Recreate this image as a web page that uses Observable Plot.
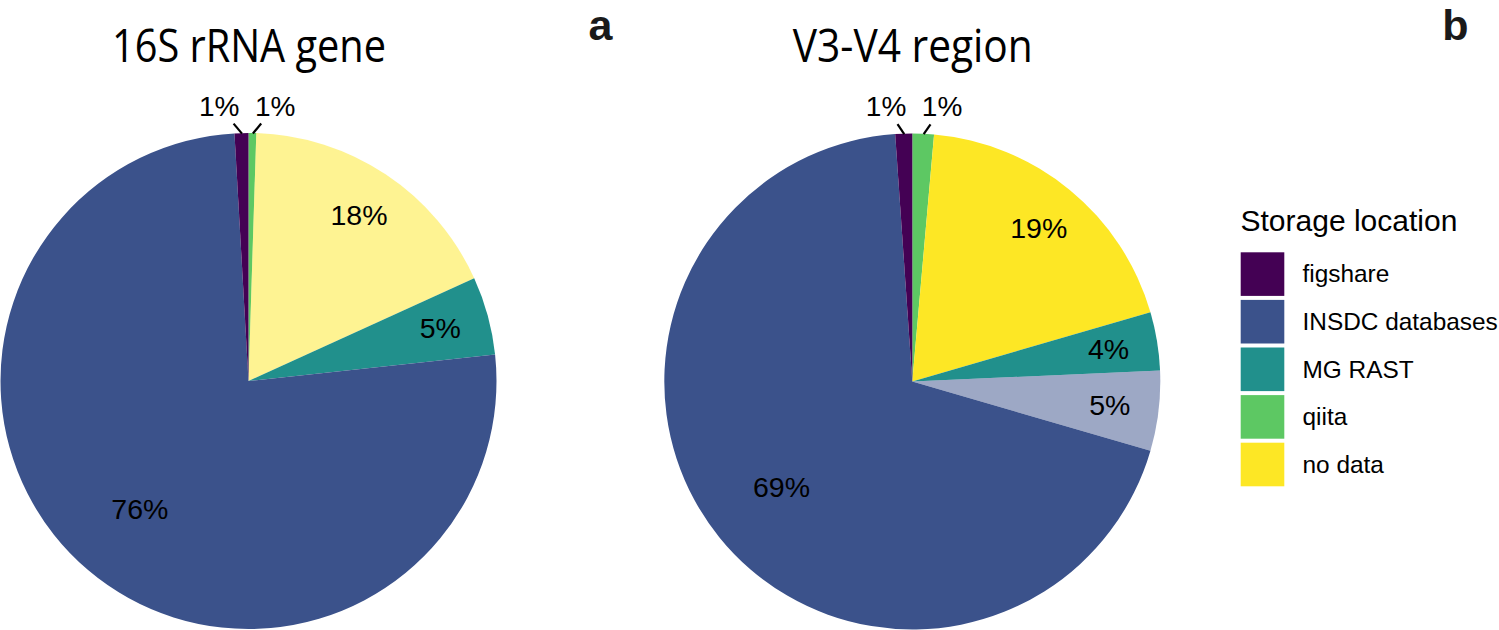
<!DOCTYPE html>
<html>
<head>
<meta charset="utf-8">
<script src="https://cdn.jsdelivr.net/npm/d3@7"></script>
<script src="https://cdn.jsdelivr.net/npm/@observablehq/plot@0.6"></script>
<style>
  body { margin: 0; background: #ffffff; }
</style>
</head>
<body>
<div id="chart"></div>
<script>
// ---------- data ----------
const categories = ["figshare", "INSDC databases", "MG RAST", "qiita", "no data"];
const palette = ["#440154", "#3B528B", "#21908C", "#5DC863", "#FDE725"];

// panel a: 16S rRNA gene (slices clockwise from 12 o'clock), share in %
const geneLocation = ["qiita", "no data", "MG RAST", "INSDC databases", "figshare"];
const geneShare = [0.5, 17.7, 5.1, 75.8, 0.9];
const geneDimmed = [false, true, false, false, false];

// panel b: V3-V4 region
const regionLocation = ["qiita", "no data", "MG RAST", "INSDC databases", "INSDC databases", "figshare"];
const regionShare = [1.4, 19.1, 3.8, 5.2, 69.4, 1.1];
const regionDimmed = [false, false, false, true, false, false];

const panelTitles = ["16S rRNA gene", "V3-V4 region"];
const panelTags = ["a", "b"];
const legendTitle = "Storage location";

// ---------- layout ----------
const W = 1499, H = 630;
const R = 248;
const centers = [[248.5, 381], [912.3, 381.5]];
const tagX = [612, 1468];

const panels = [
  {location: geneLocation, share: geneShare, dimmed: geneDimmed},
  {location: regionLocation, share: regionShare, dimmed: regionDimmed}
];

const slices = panels.flatMap((p, pi) => {
  const rows = p.location.map((loc, i) => ({pie: pi, location: loc, share: p.share[i], dimmed: p.dimmed[i]}));
  const arcs = d3.pie().sort(null).value(d => d.share)(rows);
  return arcs.map(a => ({...a.data, a0: a.startAngle, a1: a.endAngle, cx: centers[pi][0], cy: centers[pi][1]}));
});

const polar = (s, r) => {
  const m = (s.a0 + s.a1) / 2;
  return [s.cx + r * Math.sin(m), s.cy - r * Math.cos(m)];
};
const pct = s => Math.round(s.share) + "%";

// labels inside the slices
const insideLabels = slices.filter(s => s.share >= 2).map(s => {
  const [x, y] = polar(s, s.share > 50 ? 0.68 * R : 0.8 * R);
  return {x, y, text: pct(s)};
});

// labels for thin slices, outside with leader lines
const tinyLabels = slices.filter(s => s.share < 2).map(s => {
  const [ax, ay] = polar(s, R);
  const [x, y] = polar(s, R + 27);
  return {pie: s.pie, ax, ay, x, y, text: pct(s)};
});
for (let pi = 0; pi < panels.length; ++pi) {
  const group = tinyLabels.filter(d => d.pie === pi).sort((a, b) => a.x - b.x);
  for (let i = 1; i < group.length; ++i) {
    const a = group[i - 1], b = group[i];
    if (b.x - a.x < 56) {
      const mid = (a.x + b.x) / 2;
      a.x = mid - 28; b.x = mid + 28;
    }
  }
}
const leaders = tinyLabels.map(d => {
  const t = (d.ay - (d.y + 17)) / (d.ay - d.y);
  return {x1: d.ax, y1: d.ay, x2: d.ax + t * (d.x - d.ax), y2: d.ay + t * (d.y - d.ay)};
});

const titleRows = panelTitles.map((t, i) => ({text: t, x: centers[i][0], y: 61}));
const tagRows = panelTags.map((t, i) => ({text: t, x: tagX[i], y: 39}));

const keyTop = 252.3, keyStep = 47.6, keySize = 43.6;
const legendRows = categories.map((c, i) => ({location: c, y1: keyTop + i * keyStep, y2: keyTop + i * keyStep + keySize}));

// custom pie slices drawn with Plot's scales
function pieSlices(index, scales) {
  const g = d3.create("svg:g").attr("aria-label", "pie slices");
  const arc = d3.arc();
  for (const s of slices) {
    g.append("path")
      .attr("transform", `translate(${scales.x(s.cx)},${scales.y(s.cy)})`)
      .attr("d", arc({innerRadius: 0, outerRadius: R, startAngle: s.a0, endAngle: s.a1}))
      .attr("fill", scales.color(s.location))
      .attr("fill-opacity", s.dimmed ? 0.5 : 1);
  }
  return g.node();
}

const chart = Plot.plot({
  width: W,
  height: H,
  margin: 0,
  x: {domain: [0, W], range: [0, W], axis: null},
  y: {domain: [0, H], range: [0, H], axis: null},
  color: {domain: categories, range: palette},
  style: {fontFamily: "'Liberation Sans', Arial, sans-serif", background: "#ffffff", color: "#000"},
  marks: [
    pieSlices,
    Plot.text(insideLabels, {x: "x", y: "y", text: "text", fontSize: 28.5, fill: "#000"}),
    Plot.link(leaders, {x1: "x1", y1: "y1", x2: "x2", y2: "y2", stroke: "#000", strokeWidth: 2.2}),
    Plot.text(tinyLabels, {x: "x", y: "y", text: "text", fontSize: 28, fill: "#000"}),
    Plot.text(titleRows, {x: "x", y: "y", text: "text", fontSize: 46, fontFamily: "'Open Sans', sans-serif", lineAnchor: "bottom", fill: "#000"}),
    Plot.text(tagRows, {x: "x", y: "y", text: "text", fontSize: 43, fontWeight: "bold", textAnchor: "end", lineAnchor: "bottom", fill: "#1a1a1a"}),
    Plot.text([legendTitle], {x: 1240, y: 230.7, text: d => d, fontSize: 30, textAnchor: "start", lineAnchor: "bottom", fill: "#000"}),
    Plot.rect(legendRows, {x1: 1240.7, x2: 1284.3, y1: "y1", y2: "y2", fill: "location"}),
    Plot.text(legendRows, {x: 1302, y: d => (d.y1 + d.y2) / 2, text: "location", fontSize: 24.4, textAnchor: "start", fill: "#000"})
  ]
});

document.getElementById("chart").appendChild(chart);

// condense the titles to the reference's width (condensed humanist face)
const titleWidths = {"16S rRNA gene": 274, "V3-V4 region": 240};
chart.querySelectorAll("text").forEach(t => {
  const w = titleWidths[t.textContent];
  if (w) { t.setAttribute("textLength", w); t.setAttribute("lengthAdjust", "spacingAndGlyphs"); }
});
</script>
</body>
</html>
